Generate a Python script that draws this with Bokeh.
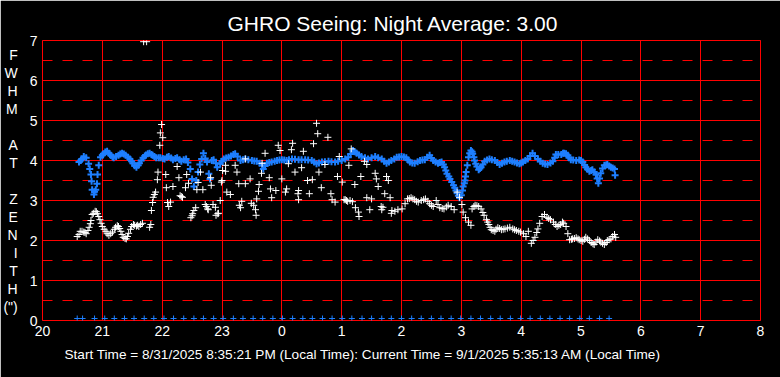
from bokeh.plotting import figure
from bokeh.models import Range1d, FixedTicker, Title
from bokeh.embed import file_html
from bokeh.resources import INLINE

# ---------------- data ----------------
title_text = "GHRO Seeing: Night Average: 3.00"
footer_text = ("Start Time = 8/31/2025 8:35:21 PM (Local Time): "
               "Current Time = 9/1/2025 5:35:13 AM (Local Time)")
y_letters = ["F", "W", "H", "M", " ", "A", "T", " ", "Z", "E", "N", "I", "T", "H", "(\")"]

x_ticks = [20, 21, 22, 23, 24, 25, 26, 27, 28, 29, 30, 31, 32]
x_tick_labels = ["20", "21", "22", "23", "0", "1", "2", "3", "4", "5", "6", "7", "8"]
y_ticks = [0, 1, 2, 3, 4, 5, 6, 7]
y_minor = [0.5, 1.5, 2.5, 3.5, 4.5, 5.5, 6.5]

# blue series (hours since midnight of start day, FWHM arcsec)
blue_t = [20.61, 20.64, 20.66, 20.69, 20.73, 20.77, 20.79, 20.81, 20.82, 20.83, 20.86, 20.87,
          20.89, 20.91, 20.92, 20.94, 20.97, 21.0, 21.02, 21.05, 21.08, 21.11, 21.14, 21.17,
          21.19, 21.23, 21.27, 21.3, 21.33, 21.36, 21.39, 21.43, 21.46, 21.49, 21.51, 21.54,
          21.57, 21.6, 21.62, 21.65, 21.68, 21.71, 21.73, 21.76, 21.79, 21.82, 21.84, 21.87,
          21.9, 21.94, 21.97, 22.01, 22.04, 22.08, 22.11, 22.15, 22.18, 22.22, 22.25, 22.29,
          22.32, 22.36, 22.4, 22.43, 22.47, 22.5, 22.53, 22.57, 22.6, 22.63, 22.66, 22.69,
          22.72, 22.75, 22.78, 22.8, 22.83, 22.86, 22.9, 22.92, 22.97, 23.0, 23.03, 23.07,
          23.11, 23.15, 23.19, 23.22, 23.26, 23.31, 23.35, 23.39, 23.44, 23.5, 23.54, 23.58,
          23.63, 23.67, 23.69, 23.72, 23.75, 23.79, 23.83, 23.88, 23.92, 23.96, 24.0, 24.04,
          24.08, 24.12, 24.17, 24.22, 24.28, 24.33, 24.39, 24.44, 24.5, 24.54, 24.58, 24.62,
          24.67, 24.72, 24.78, 24.83, 24.89, 24.94, 25.0, 25.06, 25.11, 25.15, 25.19, 25.22,
          25.25, 25.29, 25.33, 25.39, 25.44, 25.5, 25.56, 25.61, 25.67, 25.71, 25.75, 25.79,
          25.83, 25.88, 25.92, 25.96, 26.0, 26.04, 26.08, 26.11, 26.14, 26.18, 26.22, 26.27,
          26.31, 26.35, 26.39, 26.43, 26.47, 26.5, 26.53, 26.57, 26.61, 26.64, 26.67, 26.7,
          26.72, 26.74, 26.76, 26.79, 26.81, 26.84, 26.87, 26.89, 26.91, 26.93, 26.95, 26.97,
          27.0, 27.02, 27.03, 27.05, 27.06, 27.07, 27.08, 27.1, 27.12, 27.14, 27.16, 27.18,
          27.19, 27.21, 27.22, 27.24, 27.26, 27.29, 27.31, 27.33, 27.36, 27.39, 27.43, 27.47,
          27.51, 27.56, 27.6, 27.64, 27.68, 27.72, 27.76, 27.81, 27.85, 27.89, 27.93, 27.97,
          28.0, 28.03, 28.07, 28.11, 28.15, 28.19, 28.23, 28.28, 28.32, 28.36, 28.4, 28.44,
          28.49, 28.53, 28.56, 28.58, 28.62, 28.67, 28.7, 28.72, 28.75, 28.78, 28.8, 28.83,
          28.87, 28.92, 28.97, 29.0, 29.03, 29.06, 29.08, 29.11, 29.14, 29.17, 29.19, 29.22,
          29.25, 29.27, 29.29, 29.31, 29.33, 29.36, 29.39, 29.42, 29.44, 29.47, 29.5, 29.53,
          29.56, 29.57]
blue_v = [3.96, 4.0, 4.04, 4.1, 4.07, 3.92, 3.79, 3.65, 3.48, 3.27, 3.15, 3.22,
          3.27, 3.42, 3.65, 3.88, 4.08, 4.13, 4.17, 4.21, 4.23, 4.18, 4.13, 4.09,
          4.07, 4.1, 4.13, 4.16, 4.18, 4.16, 4.13, 4.08, 4.04, 3.98, 3.93, 3.87,
          3.83, 3.88, 3.93, 4.0, 4.07, 4.11, 4.14, 4.17, 4.18, 4.15, 4.13, 4.1,
          4.07, 4.07, 4.07, 4.05, 4.04, 4.08, 4.1, 4.06, 4.02, 4.05, 4.07, 4.02,
          3.98, 4.02, 4.04, 3.95, 3.79, 3.54, 3.35, 3.5, 3.71, 3.9, 4.04, 4.18,
          4.05, 3.96, 3.67, 3.54, 4.0, 4.02, 3.93, 3.83, 3.92, 3.98, 4.04, 4.06,
          4.08, 4.11, 4.15, 4.17, 4.1, 4.0, 4.02, 4.04, 4.02, 4.0, 3.99, 3.98,
          3.93, 3.88, 3.79, 3.86, 3.93, 3.95, 3.96, 3.98, 4.0, 4.01, 4.02, 4.01,
          4.0, 4.02, 4.04, 4.03, 4.02, 4.02, 4.02, 4.01, 4.0, 3.96, 3.92, 3.94,
          3.96, 3.97, 3.98, 3.97, 3.96, 3.98, 4.0, 4.04, 4.08, 4.16, 4.25, 4.22,
          4.18, 4.14, 4.1, 4.07, 4.04, 4.07, 4.1, 4.07, 4.04, 3.98, 3.93, 3.96,
          4.0, 4.04, 4.08, 4.09, 4.1, 4.09, 4.07, 4.01, 3.96, 3.94, 3.93, 3.97,
          4.0, 4.01, 4.02, 4.08, 4.13, 4.06, 4.0, 3.96, 3.93, 3.95, 3.96, 3.9,
          3.83, 3.75, 3.67, 3.6, 3.54, 3.46, 3.38, 3.32, 3.25, 3.18, 3.12, 3.07,
          3.13, 3.25, 3.35, 3.43, 3.5, 3.6, 3.71, 3.88, 4.08, 4.18, 4.25, 4.22,
          4.17, 4.08, 4.0, 3.92, 3.85, 3.77, 3.8, 3.83, 3.9, 3.98, 4.01, 4.04,
          4.02, 4.0, 3.95, 3.9, 3.93, 3.96, 3.98, 4.0, 3.98, 3.96, 3.94, 3.92,
          3.94, 3.96, 4.0, 4.04, 4.11, 4.18, 4.11, 4.04, 3.98, 3.93, 3.91, 3.9,
          3.94, 3.98, 4.07, 4.15, 4.15, 4.15, 4.18, 4.18, 4.17, 4.13, 4.07, 4.02,
          4.01, 4.0, 4.01, 4.0, 3.96, 3.89, 3.83, 3.78, 3.73, 3.75, 3.77, 3.71,
          3.65, 3.55, 3.43, 3.55, 3.68, 3.8, 3.88, 3.89, 3.9, 3.86, 3.83, 3.81,
          3.79, 3.63]

# white series
white_t = [20.58, 20.61, 20.63, 20.66, 20.69, 20.71, 20.73, 20.76, 20.78, 20.8, 20.81, 20.83,
           20.85, 20.88, 20.9, 20.92, 20.94, 20.96, 20.98, 21.0, 21.03, 21.06, 21.08, 21.11,
           21.14, 21.17, 21.2, 21.22, 21.25, 21.27, 21.29, 21.31, 21.33, 21.35, 21.38, 21.4,
           21.42, 21.44, 21.47, 21.49, 21.52, 21.54, 21.57, 21.59, 21.61, 21.64, 21.67, 21.69,
           21.74, 21.79, 21.81, 21.82, 21.84, 21.85, 21.87, 21.89, 21.92, 21.93, 21.96, 21.97,
           21.99, 22.01, 22.06, 22.07, 22.09, 22.11, 22.14, 22.18, 22.25, 22.28, 22.3, 22.32,
           22.34, 22.39, 22.41, 22.44, 22.48, 22.5, 22.51, 22.53, 22.56, 22.58, 22.6, 22.64,
           22.68, 22.72, 22.74, 22.76, 22.77, 22.81, 22.82, 22.85, 22.89, 22.9, 22.93, 22.94,
           22.97, 22.99, 23.0, 23.01, 23.06, 23.06, 23.08, 23.14, 23.22, 23.25, 23.28, 23.29,
           23.31, 23.33, 23.39, 23.39, 23.47, 23.49, 23.53, 23.56, 23.57, 23.58, 23.61, 23.62,
           23.66, 23.67, 23.72, 23.79, 23.81, 23.83, 23.9, 23.94, 23.97, 24.0, 24.06, 24.08,
           24.11, 24.16, 24.18, 24.22, 24.27, 24.28, 24.28, 24.33, 24.36, 24.43, 24.46, 24.51,
           24.53, 24.58, 24.6, 24.62, 24.66, 24.72, 24.77, 24.82, 24.84, 24.89, 24.93, 24.96,
           25.01, 25.04, 25.06, 25.08, 25.1, 25.12, 25.14, 25.16, 25.18, 25.22, 25.23, 25.28,
           25.29, 25.32, 25.38, 25.42, 25.42, 25.47, 25.5, 25.56, 25.58, 25.61, 25.66, 25.67,
           25.69, 25.72, 25.75, 25.78, 25.81, 25.83, 25.84, 25.89, 25.94, 26.01, 26.06, 26.1,
           26.13, 26.16, 26.19, 26.22, 26.25, 26.28, 26.33, 26.37, 26.4, 26.44, 26.47, 26.5,
           26.53, 26.58, 26.61, 26.64, 26.68, 26.71, 26.75, 26.78, 26.83, 26.88, 26.93, 26.97,
           27.01, 27.03, 27.07, 27.12, 27.16, 27.18, 27.21, 27.23, 27.26, 27.29, 27.33, 27.36,
           27.38, 27.42, 27.44, 27.46, 27.48, 27.5, 27.53, 27.56, 27.58, 27.61, 27.64, 27.67,
           27.7, 27.73, 27.77, 27.81, 27.86, 27.89, 27.92, 27.96, 27.99, 28.04, 28.08, 28.12,
           28.17, 28.2, 28.23, 28.26, 28.28, 28.31, 28.35, 28.39, 28.43, 28.46, 28.49, 28.54,
           28.57, 28.6, 28.63, 28.66, 28.69, 28.71, 28.75, 28.78, 28.81, 28.84, 28.86, 28.89,
           28.92, 28.95, 28.97, 29.0, 29.03, 29.06, 29.08, 29.11, 29.14, 29.17, 29.2, 29.22,
           29.25, 29.28, 29.31, 29.33, 29.36, 29.39, 29.42, 29.44, 29.47, 29.5, 29.53, 29.56,
           29.58]
white_v = [2.1, 2.15, 2.23, 2.23, 2.21, 2.2, 2.17, 2.25, 2.33, 2.42, 2.5, 2.65,
           2.68, 2.73, 2.72, 2.67, 2.6, 2.52, 2.43, 2.35, 2.28, 2.23, 2.17, 2.13,
           2.17, 2.21, 2.28, 2.33, 2.37, 2.35, 2.3, 2.23, 2.15, 2.08, 2.05, 2.04,
           2.1, 2.18, 2.28, 2.35, 2.4, 2.38, 2.36, 2.38, 2.35, 2.4, 2.43, 6.97,
           6.97, 2.33, 2.4, 2.75, 2.95, 3.08, 3.15, 3.21, 3.52, 3.71, 4.38, 4.69,
           4.9, 4.57, 3.65, 3.32, 2.95, 2.85, 2.96, 3.35, 3.85, 3.57, 3.12, 3.1,
           3.08, 3.32, 3.65, 3.43, 2.57, 2.62, 2.67, 2.75, 2.82, 3.27, 3.45, 3.71,
           3.27, 2.9, 2.85, 2.79, 2.77, 3.57, 3.38, 2.9, 2.83, 2.63, 2.67, 2.68,
           3.0, 3.46, 3.5, 3.75, 3.88, 3.73, 3.21, 3.15, 3.88, 3.71, 3.42, 2.88,
           2.82, 2.98, 4.04, 3.42, 3.54, 2.93, 2.88, 2.77, 2.63, 3.04, 3.23, 3.4,
           3.68, 3.93, 4.18, 3.57, 3.29, 3.07, 3.25, 4.38, 4.25, 3.54, 3.21, 3.29,
           3.92, 4.27, 4.43, 3.71, 3.17, 3.02, 3.25, 3.82, 4.23, 3.5, 3.17, 3.52,
           4.42, 4.93, 4.67, 3.71, 3.32, 3.9, 4.58, 3.17, 3.02, 2.96, 3.6, 4.1,
           3.46, 3.02, 3.02, 3.0, 2.98, 3.88, 3.0, 4.29, 2.97, 3.4, 2.82, 2.71,
           2.6, 3.6, 3.98, 3.9, 3.07, 2.77, 3.04, 3.68, 3.54, 3.35, 2.85, 2.77,
           2.83, 3.17, 3.6, 3.5, 3.07, 2.68, 2.75, 2.73, 2.77, 2.79, 2.92, 3.04,
           3.05, 3.07, 3.04, 3.02, 2.98, 2.96, 3.0, 3.02, 3.04, 2.98, 2.92, 2.88,
           2.85, 3.0, 2.9, 2.82, 2.8, 2.79, 2.84, 2.88, 2.85, 2.77, 3.21, 3.08,
           2.9, 2.71, 2.57, 2.46, 2.38, 2.79, 2.85, 2.88, 2.87, 2.85, 2.79, 2.7,
           2.63, 2.52, 2.46, 2.4, 2.33, 2.27, 2.25, 2.23, 2.28, 2.32, 2.3, 2.27,
           2.28, 2.29, 2.31, 2.33, 2.29, 2.27, 2.25, 2.23, 2.21, 2.17, 2.1, 2.23,
           1.93, 2.0, 2.08, 2.2, 2.29, 2.43, 2.6, 2.65, 2.58, 2.55, 2.52, 2.46,
           2.4, 2.35, 2.38, 2.4, 2.46, 2.43, 2.35, 2.17, 2.02, 2.03, 2.04, 2.05,
           2.07, 2.04, 2.02, 2.0, 1.98, 2.03, 2.08, 2.04, 2.0, 1.95, 1.92, 1.9,
           1.96, 2.02, 1.99, 1.96, 1.93, 1.9, 1.95, 2.0, 2.02, 2.04, 2.1, 2.15,
           2.08]

# zero-valued blue readings along the bottom
zero_t = [20.58, 20.67, 20.87, 21.04, 21.20, 21.37, 21.53, 21.70, 21.86, 22.03, 22.19, 22.36,
          22.53, 22.69, 22.86, 23.02, 23.19, 23.35, 23.52, 23.68, 23.85, 24.01, 24.18, 24.35,
          24.51, 24.68, 24.84, 25.01, 25.17, 25.34, 25.50, 25.67, 25.83, 26.00, 26.17, 26.33,
          26.50, 26.66, 26.83, 26.99, 27.16, 27.32, 27.49, 27.65, 27.82, 27.99, 28.15, 28.32,
          28.48, 28.65, 28.81, 28.98, 29.14, 29.31, 29.47]
zero_v = [0.05 for _ in zero_t]

# ---------------- styling ----------------
BLUE = "#1E7FFF"
FONT = "Liberation Sans"

p = figure(width=780, height=377, x_range=Range1d(20, 32), y_range=Range1d(0, 7),
           output_backend="svg", toolbar_location=None,
           background_fill_color="black", border_fill_color="black",
           outline_line_color="red", outline_line_width=1,
           min_border_left=40, min_border_right=20, min_border_top=40, min_border_bottom=57)

# title
p.title.text = title_text
p.title.align = "left"
p.title.offset = 185
p.title.standoff = 12
p.title.text_color = "white"
p.title.text_font = FONT
p.title.text_font_size = "21px"
p.title.text_font_style = "normal"

# footer
footer = Title(text=footer_text, align="left", offset=22, standoff=16,
               vertical_align="top", text_color="white", text_font=FONT,
               text_font_size="13.6px", text_font_style="normal")
p.add_layout(footer, "below")

p.xaxis.ticker = FixedTicker(ticks=x_ticks)
p.xaxis.major_label_overrides = {t: l for t, l in zip(x_ticks, x_tick_labels)}
p.yaxis.ticker = FixedTicker(ticks=y_ticks, minor_ticks=y_minor)

for ax in (p.xaxis[0], p.yaxis[0]):
    ax.axis_line_color = None
    ax.major_tick_line_color = None
    ax.minor_tick_line_color = None
    ax.major_tick_out = 0
    ax.minor_tick_out = 0
    ax.major_label_standoff = 5
    ax.major_label_text_color = "white"
    ax.major_label_text_font = FONT
    ax.major_label_text_font_size = "14px"

# stacked vertical y-axis title
ya = p.yaxis[0]
ya.axis_label = "\n".join(y_letters)
ya.axis_label_orientation = "horizontal"
ya.axis_label_text_align = "center"
ya.axis_label_text_color = "white"
ya.axis_label_text_font = FONT
ya.axis_label_text_font_size = "14px"
ya.axis_label_text_font_style = "normal"
ya.axis_label_text_line_height = 1.125
ya.axis_label_standoff = 9

p.xgrid.grid_line_color = "red"
p.xgrid.grid_line_width = 1
p.ygrid.grid_line_color = "red"
p.ygrid.grid_line_width = 1
p.ygrid.minor_grid_line_color = "red"
p.ygrid.minor_grid_line_dash = "10 10"
p.ygrid.minor_grid_line_width = 1

p.scatter(zero_t, zero_v, marker="cross", size=6, line_color=BLUE, line_width=1)
p.scatter(blue_t, blue_v, marker="cross", size=7, line_color=BLUE, line_width=2)
p.scatter(white_t, white_v, marker="cross", size=7, line_color="white", line_width=1)

html = file_html(p, INLINE, title="GHRO Seeing")
html = html.replace("<body>", '<body style="background-color:#000000;">', 1)
open("out.html", "w").write(html)
